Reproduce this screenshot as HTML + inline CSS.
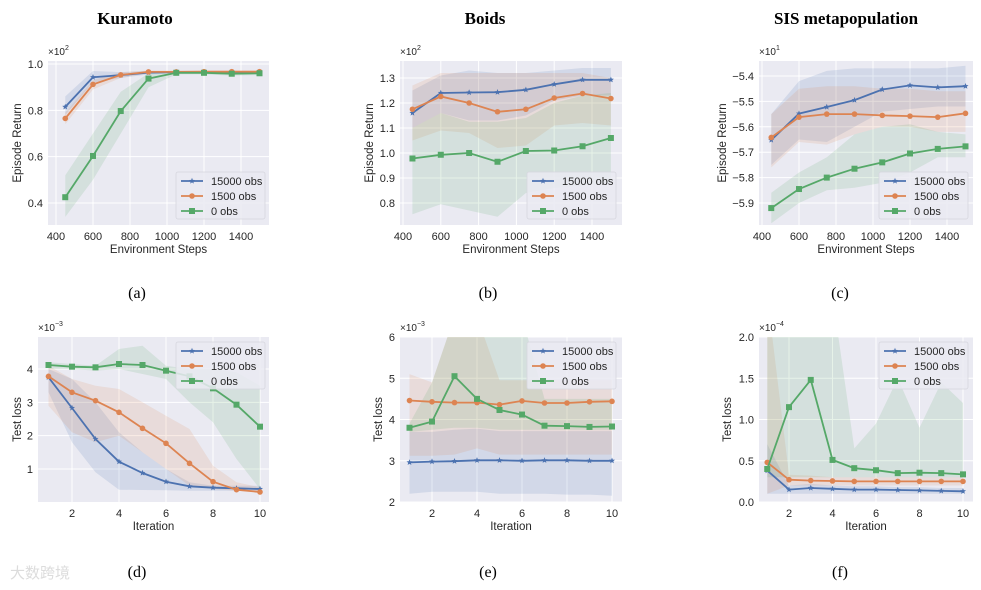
<!DOCTYPE html>
<html><head><meta charset="utf-8">
<style>
body{margin:0;background:#fff;width:981px;height:590px;overflow:hidden}
svg{display:block}
.t{font-family:"Liberation Sans",sans-serif;fill:#262626}
.s{font-family:"Liberation Serif",serif;fill:#000}
</style></head>
<body>
<svg id="fig" width="981" height="590" xmlns="http://www.w3.org/2000/svg"></svg>
<script>
const stepsX=[450,600,750,900,1050,1200,1350,1500];
const iterX=[1,2,3,4,5,6,7,8,9,10];
const seriesNames=["15000 obs","1500 obs","0 obs"];
// (a) Kuramoto
const aBlue=[0.815,0.943,0.952,0.963,0.965,0.965,0.965,0.965];
const aOrange=[0.765,0.912,0.953,0.966,0.966,0.967,0.967,0.967];
const aGreen=[0.425,0.603,0.797,0.937,0.962,0.962,0.958,0.960];
const aBlueLo=[0.78,0.92,0.94,0.955,0.96,0.96,0.96,0.96];
const aBlueHi=[0.86,0.97,0.965,0.97,0.97,0.97,0.97,0.97];
const aOrangeLo=[0.74,0.89,0.94,0.96,0.96,0.96,0.96,0.96];
const aOrangeHi=[0.79,0.93,0.965,0.972,0.972,0.972,0.972,0.972];
const aGreenLo=[0.34,0.5,0.7,0.9,0.955,0.955,0.95,0.952];
const aGreenHi=[0.52,0.7,0.88,0.96,0.97,0.97,0.966,0.968];
// (b) Boids
const bBlue=[1.16,1.24,1.242,1.243,1.253,1.275,1.293,1.293];
const bOrange=[1.175,1.226,1.2,1.165,1.175,1.22,1.238,1.218];
const bGreen=[0.978,0.993,1.0,0.965,1.008,1.01,1.027,1.06];
const bBlueLo=[1.1,1.16,1.13,1.13,1.15,1.21,1.23,1.23];
const bBlueHi=[1.25,1.31,1.33,1.32,1.32,1.33,1.34,1.34];
const bOrangeLo=[1.05,1.09,1.08,1.02,1.03,1.11,1.12,1.11];
const bOrangeHi=[1.27,1.32,1.32,1.32,1.32,1.32,1.32,1.30];
const bGreenLo=[0.755,0.795,0.77,0.745,0.84,0.86,0.87,0.88];
const bGreenHi=[1.1,1.16,1.125,1.125,1.14,1.2,1.23,1.24];
// (c) SIS
const cBlue=[-5.652,-5.548,-5.522,-5.495,-5.453,-5.437,-5.445,-5.44];
const cOrange=[-5.642,-5.562,-5.55,-5.55,-5.555,-5.558,-5.562,-5.547];
const cGreen=[-5.92,-5.845,-5.8,-5.765,-5.74,-5.705,-5.687,-5.677];
const cBlueLo=[-5.75,-5.65,-5.66,-5.6,-5.54,-5.53,-5.52,-5.52];
const cBlueHi=[-5.55,-5.42,-5.38,-5.37,-5.37,-5.37,-5.37,-5.36];
const cOrangeLo=[-5.76,-5.66,-5.67,-5.63,-5.6,-5.6,-5.62,-5.62];
const cOrangeHi=[-5.55,-5.45,-5.44,-5.44,-5.45,-5.45,-5.46,-5.46];
const cGreenLo=[-5.98,-5.9,-5.85,-5.84,-5.82,-5.78,-5.72,-5.72];
const cGreenHi=[-5.86,-5.78,-5.72,-5.63,-5.6,-5.59,-5.62,-5.63];
// (d)
const dBlue=[3.75,2.83,1.9,1.22,0.88,0.62,0.48,0.44,0.42,0.40];
const dOrange=[3.78,3.3,3.05,2.7,2.22,1.77,1.17,0.62,0.38,0.31];
const dGreen=[4.12,4.07,4.05,4.15,4.12,3.95,3.78,3.42,2.93,2.27];
const dBlueLo=[3.3,1.8,0.9,0.38,0.37,0.36,0.35,0.35,0.35,0.35];
const dBlueHi=[4.0,3.7,3.0,2.1,1.5,1.0,0.6,0.5,0.5,0.5];
const dOrangeLo=[2.9,2.1,1.8,2.0,1.5,1.0,0.5,0.4,0.35,0.3];
const dOrangeHi=[4.1,3.7,3.5,3.4,3.0,2.6,2.2,1.1,0.6,0.45];
const dGreenLo=[4.0,4.0,3.95,4.0,3.85,3.7,3.0,2.4,1.3,0.4];
const dGreenHi=[4.2,4.15,4.1,4.6,4.7,4.1,4.0,4.0,3.9,3.5];
// (e)
const eBlue=[2.96,2.98,2.99,3.01,3.01,3.0,3.01,3.01,3.0,3.0];
const eOrange=[4.46,4.43,4.41,4.41,4.36,4.45,4.4,4.4,4.43,4.44];
const eGreen=[3.8,3.95,5.05,4.5,4.23,4.12,3.85,3.84,3.82,3.83];
const eBlueLo=[2.2,2.25,2.25,2.25,2.2,2.2,2.2,2.18,2.18,2.15];
const eBlueHi=[3.7,3.7,3.75,3.78,3.72,3.72,3.72,3.72,3.72,3.72];
const eOrangeLo=[3.12,3.12,3.15,3.3,3.15,3.15,3.15,3.15,3.15,3.15];
const eOrangeHi=[5.1,4.9,6.5,6.5,4.95,4.95,4.95,4.95,4.95,4.95];
const eGreenLo=[3.7,3.75,3.8,3.8,3.75,3.75,3.75,3.75,3.75,3.75];
const eGreenHi=[3.9,4.9,6.5,6.5,6.5,6.5,4.5,4.5,4.5,4.5];
// (f)
const fBlue=[0.38,0.15,0.17,0.16,0.15,0.15,0.145,0.14,0.135,0.13];
const fOrange=[0.48,0.27,0.26,0.255,0.25,0.25,0.25,0.25,0.25,0.25];
const fGreen=[0.4,1.15,1.48,0.51,0.41,0.385,0.35,0.355,0.35,0.335];
const fBlueLo=[0.1,0.1,0.1,0.1,0.1,0.1,0.1,0.1,0.1,0.1];
const fBlueHi=[0.7,0.2,0.22,0.2,0.19,0.19,0.18,0.18,0.17,0.17];
const fOrangeLo=[0.1,0.2,0.2,0.2,0.2,0.2,0.2,0.2,0.2,0.2];
const fOrangeHi=[2.5,0.33,0.32,0.3,0.3,0.3,0.3,0.3,0.3,0.3];
const fGreenLo=[0.3,0.3,0.3,0.3,0.3,0.3,0.3,0.3,0.3,0.3];
const fGreenHi=[2.5,2.5,2.5,2.5,0.65,0.95,1.5,0.9,1.45,1.2];
// ticks
const stepTicks=[400,600,800,1000,1200,1400];
const iterTicks=[2,4,6,8,10];
const aTicks=[0.4,0.6,0.8,1.0];
const bTicks=[0.8,0.9,1.0,1.1,1.2,1.3];
const cTicks=[-5.9,-5.8,-5.7,-5.6,-5.5,-5.4];
const dTicks=[1,2,3,4];
const eTicks=[2,3,4,5,6];
const fTicks=[0.0,0.5,1.0,1.5,2.0];

const NS="http://www.w3.org/2000/svg";
const svg=document.getElementById('fig');
const COLORS=["#4c72b0","#dd8452","#55a868"];
function mk(tag,attrs,parent){const e=document.createElementNS(NS,tag);for(const k in attrs)e.setAttribute(k,attrs[k]);(parent||svg).appendChild(e);return e;}

const panels=[
 {id:'a',L:48,R:269,T:61,B:225,ylx:17,xs:stepsX,x0:400,px0:56,x1:1400,px1:241,y0:0.4,py0:203,y1:1.0,py1:64,xt:stepTicks,yt:aTicks,yd:1,exp:'2',xl:'Environment Steps',yl:'Episode Return',
  s:[[aBlue,aBlueLo,aBlueHi],[aOrange,aOrangeLo,aOrangeHi],[aGreen,aGreenLo,aGreenHi]],leg:[176,172]},
 {id:'b',L:400,R:622,T:61,B:225,ylx:369,xs:stepsX,x0:400,px0:403,x1:1400,px1:592,y0:0.8,py0:203,y1:1.3,py1:78,xt:stepTicks,yt:bTicks,yd:1,exp:'2',xl:'Environment Steps',yl:'Episode Return',
  s:[[bBlue,bBlueLo,bBlueHi],[bOrange,bOrangeLo,bOrangeHi],[bGreen,bGreenLo,bGreenHi]],leg:[527,172]},
 {id:'c',L:759,R:973,T:61,B:225,ylx:722,xs:stepsX,x0:400,px0:762,x1:1400,px1:947,y0:-5.9,py0:203,y1:-5.4,py1:76,xt:stepTicks,yt:cTicks,yd:1,exp:'1',xl:'Environment Steps',yl:'Episode Return',
  s:[[cBlue,cBlueLo,cBlueHi],[cOrange,cOrangeLo,cOrangeHi],[cGreen,cGreenLo,cGreenHi]],leg:[879,172]},
 {id:'d',L:38,R:269,T:337,B:502,ylx:17,xs:iterX,x0:2,px0:72,x1:10,px1:260,y0:1,py0:469,y1:4,py1:369,xt:iterTicks,yt:dTicks,yd:0,exp:'−3',xl:'Iteration',yl:'Test loss',
  s:[[dBlue,dBlueLo,dBlueHi],[dOrange,dOrangeLo,dOrangeHi],[dGreen,dGreenLo,dGreenHi]],leg:[176,342]},
 {id:'e',L:400,R:622,T:337,B:502,ylx:378,xs:iterX,x0:2,px0:432,x1:10,px1:612,y0:2,py0:502,y1:6,py1:337,xt:iterTicks,yt:eTicks,yd:0,exp:'−3',xl:'Iteration',yl:'Test loss',
  s:[[eBlue,eBlueLo,eBlueHi],[eOrange,eOrangeLo,eOrangeHi],[eGreen,eGreenLo,eGreenHi]],leg:[527,342]},
 {id:'f',L:759,R:973,T:337,B:502,ylx:727,xs:iterX,x0:2,px0:789,x1:10,px1:963,y0:0,py0:502,y1:2,py1:337,xt:iterTicks,yt:fTicks,yd:1,exp:'−4',xl:'Iteration',yl:'Test loss',
  s:[[fBlue,fBlueLo,fBlueHi],[fOrange,fOrangeLo,fOrangeHi],[fGreen,fGreenLo,fGreenHi]],leg:[879,342]}
];

function marker(g,shape,x,y,c){
  if(shape===0){
    const pts=[];for(let i=0;i<10;i++){const r=i%2?1.4:3.2,a=-Math.PI/2+i*Math.PI/5;pts.push((x+r*Math.cos(a)).toFixed(1)+','+(y+r*Math.sin(a)).toFixed(1));}
    mk('polygon',{points:pts.join(' '),fill:c},g);
  }else if(shape===1){mk('circle',{cx:x,cy:y,r:2.8,fill:c},g);}
  else{mk('rect',{x:x-3,y:y-3,width:6,height:6,fill:c},g);}
}

panels.forEach(p=>{
  const X=v=>p.px0+(v-p.x0)*(p.px1-p.px0)/(p.x1-p.x0);
  const Y=v=>p.py0+(v-p.y0)*(p.py1-p.py0)/(p.y1-p.y0);
  const g=mk('g',{});
  
  
  const cp=mk('clipPath',{id:'clip'+p.id},g);
  mk('rect',{x:p.L,y:p.T,width:p.R-p.L,height:p.B-p.T},cp);
  const bg=mk('rect',{x:p.L,y:p.T,width:p.R-p.L,height:p.B-p.T,fill:'#eaeaf2'},g);
  
  
  p.xt.forEach(t=>{const x=X(t);if(x>=p.L-0.5&&x<=p.R+0.5)mk('line',{x1:x,x2:x,y1:p.T,y2:p.B,stroke:'#fff','stroke-width':1},g);
    const tx=mk('text',{x:x,y:p.B+15,'text-anchor':'middle','font-size':11,class:'t'},g);tx.textContent=t;
    
    });
  p.yt.forEach(t=>{const y=Y(t);mk('line',{x1:p.L,x2:p.R,y1:y,y2:y,stroke:'#fff','stroke-width':1},g);
    const tx=mk('text',{x:p.L-5,y:y+4,'text-anchor':'end','font-size':11,class:'t'},g);tx.textContent=(t<0?'−'+Math.abs(t).toFixed(p.yd):t.toFixed(p.yd));
    
    });
  const ex=mk('text',{x:p.L,y:p.T-6,'font-size':10,class:'t'},g);
  ex.innerHTML='×10<tspan dy="-5" font-size="7">'+p.exp+'</tspan>';
  
  
  const xl=mk('text',{x:(p.L+p.R)/2,y:p.B+28,'text-anchor':'middle','font-size':11.5,class:'t'},g);xl.textContent=p.xl;
  
  
  const yx=p.ylx+4,yy=(p.T+p.B)/2;
  const yl=mk('text',{x:yx,y:yy,'text-anchor':'middle','font-size':11.5,class:'t',transform:'rotate(-90 '+yx+' '+yy+')'},g);yl.textContent=p.yl;
  
  
  const dg=mk('g',{'clip-path':'url(#clip'+p.id+')'},g);
  p.s.forEach((s,i)=>{
    const [m,lo,hi]=s;
    let d=p.xs.map((v,k)=>(k?'L':'M')+X(v).toFixed(1)+','+Y(hi[k]).toFixed(1)).join('');
    for(let k=p.xs.length-1;k>=0;k--)d+='L'+X(p.xs[k]).toFixed(1)+','+Y(lo[k]).toFixed(1);
    const band=mk('path',{d:d+'Z',fill:COLORS[i],'fill-opacity':0.15},dg);
    
    
  });
  p.s.forEach((s,i)=>{
    const m=s[0];
    const ln=mk('polyline',{points:p.xs.map((v,k)=>X(v).toFixed(1)+','+Y(m[k]).toFixed(1)).join(' '),fill:'none',stroke:COLORS[i],'stroke-width':1.8},dg);
    
    
    p.xs.forEach((v,k)=>marker(dg,i,X(v),Y(m[k]),COLORS[i]));
  });
  const [lx,ly]=p.leg;
  const lg=mk('g',{},g);
  
  
  mk('rect',{x:lx,y:ly,width:89,height:47,rx:2,fill:'#eaeaf2','fill-opacity':0.85,stroke:'#d6d6de','stroke-width':0.8},lg);
  seriesNames.forEach((n,i)=>{
    const yy2=ly+9+i*15;
    mk('line',{x1:lx+5,x2:lx+27,y1:yy2,y2:yy2,stroke:COLORS[i],'stroke-width':1.8},lg);
    marker(lg,i,lx+16,yy2,COLORS[i]);
    const t=mk('text',{x:lx+35,y:yy2+4,'font-size':11,class:'t'},lg);t.textContent=n;
    
    
  });
});

[['Kuramoto',135,24],['Boids',485,24],['SIS metapopulation',846,24]].forEach(a=>{
  const t=mk('text',{x:a[1],y:a[2],'text-anchor':'middle','font-size':17,'font-weight':'bold',class:'s'});t.textContent=a[0];
  
  
});
[['(a)',137,298],['(b)',488,298],['(c)',840,298],['(d)',137,577],['(e)',488,577],['(f)',840,577]].forEach(a=>{
  const t=mk('text',{x:a[1],y:a[2],'text-anchor':'middle','font-size':16,class:'s'});t.textContent=a[0];
  
  
});
const wm=mk('text',{x:10,y:578,'font-size':15,fill:'#dcdcdc',style:'font-family:"Liberation Sans","Noto Sans CJK SC",sans-serif'});
wm.textContent='大数跨境';


</script>
</body></html>
